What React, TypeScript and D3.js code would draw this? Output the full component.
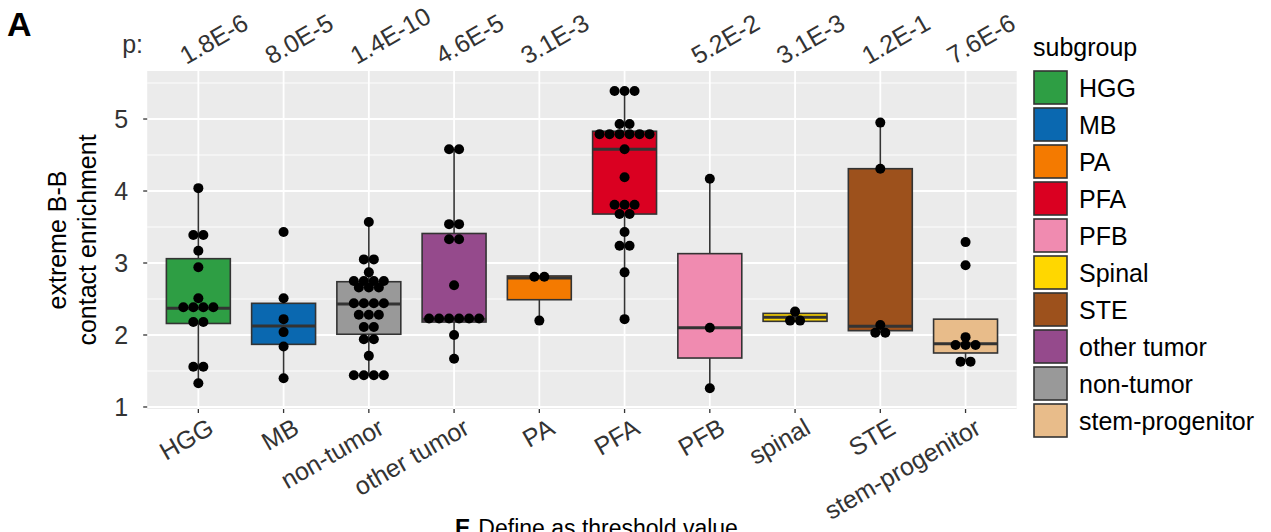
import React from 'react';
import * as d3 from 'd3';

const categories = ["HGG", "MB", "non-tumor", "other tumor", "PA", "PFA", "PFB", "spinal", "STE", "stem-progenitor"];
const boxFills = ["#2E9E44", "#0A68B0", "#999999", "#954A8C", "#F47A00", "#DA0021", "#F08BB0", "#FFD700", "#9D511C", "#E8BC8A"];
const pValues = ["1.8E-6", "8.0E-5", "1.4E-10", "4.6E-5", "3.1E-3", "", "5.2E-2", "3.1E-3", "1.2E-1", "7.6E-6"];

// box statistics
const whiskerLow = [1.33, 1.40, 1.44, 1.67, 2.20, 2.22, 1.26, 2.19, 2.03, 1.63];
const q1 = [2.16, 1.87, 2.01, 2.18, 2.49, 3.68, 1.68, 2.19, 2.06, 1.75];
const median = [2.37, 2.125, 2.43, 2.22, 2.79, 4.58, 2.10, 2.245, 2.12, 1.88];
const q3 = [3.06, 2.44, 2.74, 3.41, 2.82, 4.83, 3.13, 2.30, 4.31, 2.22];
const whiskerHigh = [4.04, 2.51, 3.57, 4.58, 2.82, 5.39, 4.17, 2.32, 4.95, 1.97];

// dot positions (binned values)
const pointsHGG = [4.04, 3.39, 3.39, 3.17, 2.94, 2.51, 2.385, 2.385, 2.385, 2.385, 2.18, 2.18, 1.56, 1.56, 1.33];
const pointsMB = [3.43, 2.51, 2.22, 2.04, 1.84, 1.40];
const pointsNonTumor = [3.57, 3.05, 3.05, 2.87, 2.75, 2.75, 2.75, 2.75, 2.66, 2.66, 2.66, 2.44, 2.44, 2.44, 2.44, 2.28, 2.28, 2.28, 2.11, 2.11, 1.94, 1.94, 1.71, 1.44, 1.44, 1.44, 1.44];
const pointsOtherTumor = [4.58, 4.58, 3.54, 3.54, 3.33, 3.33, 2.69, 2.23, 2.23, 2.23, 2.23, 2.23, 2.23, 2.00, 1.67];
const pointsPA = [2.81, 2.81, 2.20];
const pointsPFA = [5.39, 5.39, 5.39, 4.93, 4.93, 4.79, 4.79, 4.79, 4.79, 4.79, 4.79, 4.58, 4.19, 3.81, 3.81, 3.81, 3.68, 3.68, 3.43, 3.24, 3.24, 2.87, 2.22];
const pointsPFB = [4.17, 2.10, 1.26];
const pointsSpinal = [2.325, 2.20, 2.20];
const pointsSTE = [4.95, 4.31, 2.14, 2.03, 2.03];
const pointsStem = [3.29, 2.97, 1.97, 1.86, 1.86, 1.86, 1.63, 1.63];
const pointSets = [pointsHGG, pointsMB, pointsNonTumor, pointsOtherTumor, pointsPA, pointsPFA, pointsPFB, pointsSpinal, pointsSTE, pointsStem];

const yTicks = [1, 2, 3, 4, 5];
const yMinor = [1.5, 2.5, 3.5, 4.5, 5.5];

const legendLabels = ["HGG", "MB", "PA", "PFA", "PFB", "Spinal", "STE", "other tumor", "non-tumor", "stem-progenitor"];
const legendFills = ["#2E9E44", "#0A68B0", "#F47A00", "#DA0021", "#F08BB0", "#FFD700", "#9D511C", "#954A8C", "#999999", "#E8BC8A"];

const FONT = "'Liberation Sans', Arial, Helvetica, sans-serif";

export default function App() {
  const W = 1271, H = 532;
  const panel = { left: 147.2, right: 1016.7, top: 71, bottom: 409 };
  const x = d3.scalePoint<string>().domain(categories).range([panel.left, panel.right]).padding(0.6);
  const y = d3.scaleLinear().domain([0.972, 5.667]).range([panel.bottom, panel.top]);
  const step = x.step();
  const boxW = step * 0.75;
  const dotD = 10;
  const fs = 25;

  const dots: { cx: number; cy: number }[] = [];
  pointSets.forEach((pts, i) => {
    const groups = d3.group(pts, (v) => v);
    groups.forEach((vals, v) => {
      const n = vals.length;
      vals.forEach((_, k) => {
        dots.push({ cx: (x(categories[i]) as number) + (k - (n - 1) / 2) * dotD, cy: y(v) });
      });
    });
  });

  return (
    <svg width={W} height={H} style={{ position: 'absolute', left: 0, top: 0, background: '#fff' }} fontFamily={FONT}>
      <text x={7} y={36} fontSize={34} fontWeight="bold">A</text>
      {/* panel */}
      <rect x={panel.left} y={panel.top} width={panel.right - panel.left} height={panel.bottom - panel.top} fill="#EBEBEB" />
      {yMinor.map((t) => (
        <line key={'mn' + t} x1={panel.left} x2={panel.right} y1={y(t)} y2={y(t)} stroke="#fff" strokeWidth={0.9} />
      ))}
      {yTicks.map((t) => (
        <line key={'mj' + t} x1={panel.left} x2={panel.right} y1={y(t)} y2={y(t)} stroke="#fff" strokeWidth={1.8} />
      ))}
      {categories.map((c) => (
        <line key={'vg' + c} x1={x(c)} x2={x(c)} y1={panel.top} y2={panel.bottom} stroke="#fff" strokeWidth={1.8} />
      ))}
      {/* boxplots */}
      {categories.map((c, i) => {
        const cx = x(c) as number;
        return (
          <g key={'bx' + c}>
            <line x1={cx} x2={cx} y1={y(q3[i])} y2={y(whiskerHigh[i])} stroke="#333" strokeWidth={1.6} />
            <line x1={cx} x2={cx} y1={y(q1[i])} y2={y(whiskerLow[i])} stroke="#333" strokeWidth={1.6} />
            <rect x={cx - boxW / 2} y={y(q3[i])} width={boxW} height={y(q1[i]) - y(q3[i])} fill={boxFills[i]} stroke="#333" strokeWidth={1.6} />
            <line x1={cx - boxW / 2} x2={cx + boxW / 2} y1={y(median[i])} y2={y(median[i])} stroke="#333" strokeWidth={3} />
          </g>
        );
      })}
      {dots.map((d, i) => (
        <circle key={'d' + i} cx={d.cx} cy={d.cy} r={5} fill="#000" />
      ))}
      {/* y axis */}
      {yTicks.map((t) => (
        <g key={'yt' + t}>
          <line x1={panel.left - 4} x2={panel.left} y1={y(t)} y2={y(t)} stroke="#333" strokeWidth={1.3} />
          <text x={panel.left - 19} y={y(t)} dy="0.36em" textAnchor="end" fontSize={fs} fill="#333">{t}</text>
        </g>
      ))}
      <text transform={`translate(70,${(panel.top + panel.bottom) / 2}) rotate(-90)`} textAnchor="middle" fontSize={fs} fill="#000">
        <tspan x={0} dy="-0.15em">extreme B-B</tspan>
        <tspan x={0} dy="1.18em">contact enrichment</tspan>
      </text>
      {/* x axis */}
      {categories.map((c) => {
        const cx = x(c) as number;
        return (
          <g key={'xt' + c}>
            <line x1={cx} x2={cx} y1={panel.bottom} y2={panel.bottom + 4} stroke="#333" strokeWidth={1.3} />
            <text transform={`translate(${cx + 8},${panel.bottom + 8}) rotate(-30)`} textAnchor="end" dy="0.72em" fontSize={fs} fill="#333">{c}</text>
          </g>
        );
      })}
      {/* p-values */}
      <text x={143} y={53} textAnchor="end" fontSize={fs} fill="#333">p:</text>
      {categories.map((c, i) => (
        <text key={'p' + c} transform={`translate(${(x(c) as number) - 12},65) rotate(-30)`} fontSize={fs} fill="#333">{pValues[i]}</text>
      ))}
      {/* legend */}
      <text x={1033} y={56} fontSize={fs} fill="#000">subgroup</text>
      {legendLabels.map((l, i) => (
        <g key={'lg' + l}>
          <rect x={1034} y={71 + i * 37} width={33} height={33} fill={legendFills[i]} stroke="#333" strokeWidth={1.6} />
          <text x={1079} y={71 + i * 37 + 16.5} dy="0.36em" fontSize={fs} fill="#000">{l}</text>
        </g>
      ))}
      <text x={455} y={536} fontSize={23} fill="#000"><tspan fontWeight="bold">E</tspan><tspan dx={8}>Define as threshold value</tspan></text>
    </svg>
  );
}
